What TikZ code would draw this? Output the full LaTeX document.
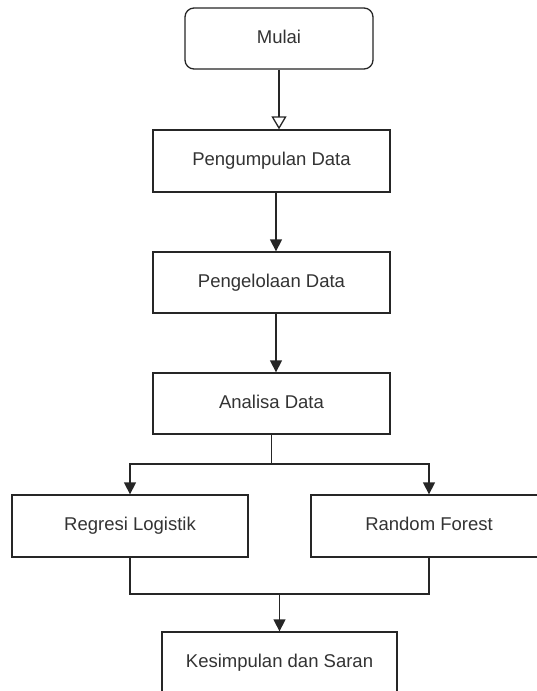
\documentclass[tikz,border=0pt]{standalone}
\usepackage{fontspec}
\setmainfont{Liberation Sans}
\usetikzlibrary{arrows.meta,calc}

\begin{document}
\begin{tikzpicture}[x=1pt,y=1pt,
        kotak/.style={draw=black!85,line width=1.3pt,fill=white,text=black!80,inner sep=0pt,text height=13.5pt,text depth=4pt,font=\fontsize{18.5}{22}\selectfont},
        panah/.style={draw=black!85,line width=1.3pt,-{Triangle[length=12pt,width=12pt]}},
        garis/.style={draw=black!85,line width=1.3pt}]
        \useasboundingbox (0,0) rectangle (537,-691);
        \node[kotak,rounded corners=9pt,minimum width=188,minimum height=61] (mulai) at (279,-38.5){Mulai};
        \node[kotak,minimum width=237,minimum height=62] (kumpul) at (271.5,-161){Pengumpulan Data};
        \node[kotak,minimum width=237,minimum height=61] (kelola) at (271.5,-282.5){Pengelolaan Data};
        \node[kotak,minimum width=237,minimum height=61] (analisa) at (271.5,-403.5){Analisa Data};
        \node[kotak,minimum width=236,minimum height=62] (regresi) at (130,-526){Regresi Logistik};
        \node[kotak,minimum width=236,minimum height=62] (forest) at (429,-526){Random Forest};
        \node[kotak,minimum width=235,minimum height=62] (simpul) at (279.5,-663){Kesimpulan dan Saran};
        \coordinate (cabang) at (271.5,-464);
        \coordinate (gabung) at (279.5,-594);
        \draw[garis,-{Triangle[open,length=13pt,width=15pt]}] (mulai.south) -- (mulai.south |- kumpul.north);
        \draw[panah] ([xshift=4.5pt]kumpul.south) -- ([xshift=4.5pt]kelola.north);
        \draw[panah] ([xshift=4.5pt]kelola.south) -- ([xshift=4.5pt]analisa.north);
        \draw[garis] (analisa.south) -- (cabang);
        \draw[panah] (cabang) -| (regresi.north);
        \draw[panah] (cabang) -| (forest.north);
        \draw[garis] (regresi.south) |- (gabung);
        \draw[garis] (forest.south) |- (gabung);
        \draw[panah] (gabung) -- (simpul.north);
    \end{tikzpicture}
\end{document}
